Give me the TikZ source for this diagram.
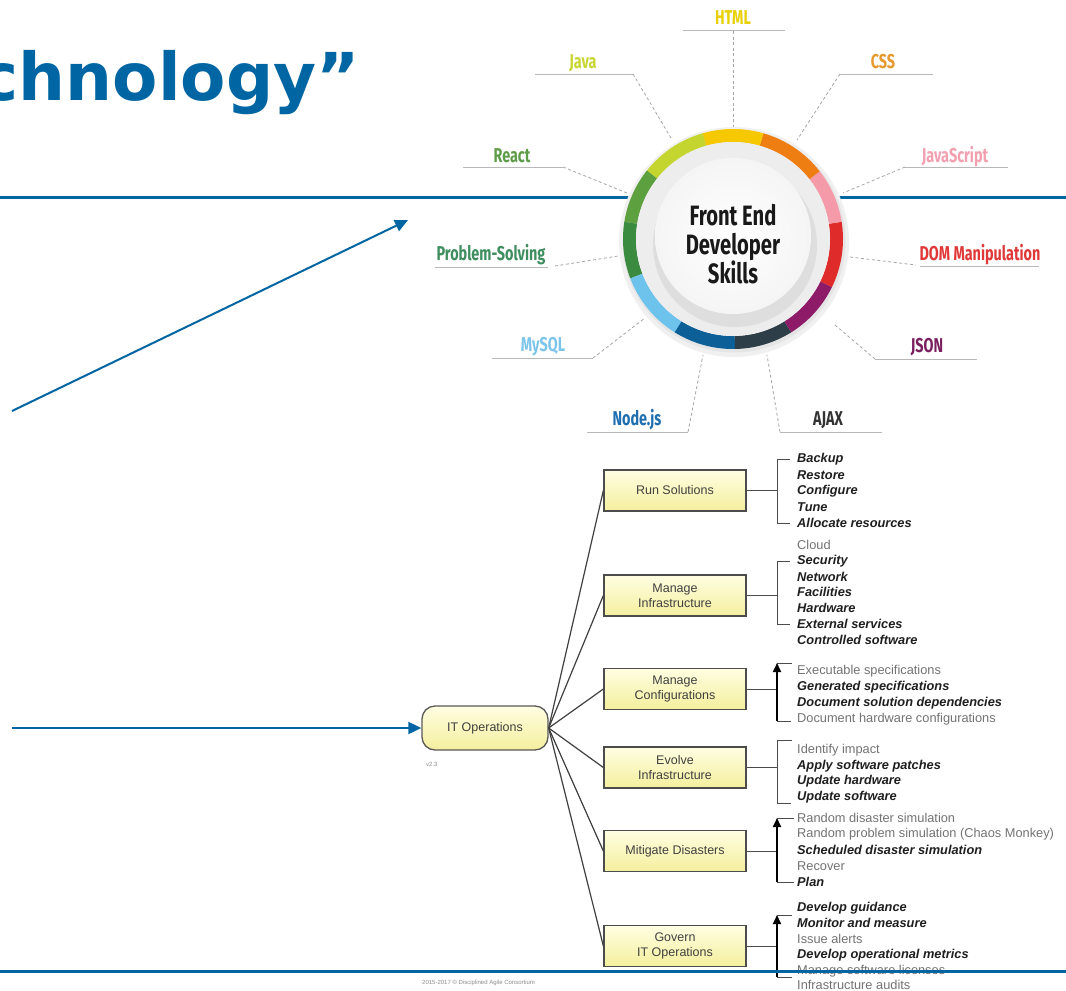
\documentclass[tikz,border=0pt]{standalone}
\usepackage{fontspec}
\setmainfont{Liberation Sans}
\newfontfamily\titlefont{DejaVu Sans}
\newfontfamily\condf{Fira Sans}[FakeStretch=0.72]
\usetikzlibrary{arrows.meta}
\definecolor{ruleblue}{HTML}{0066A3}
\definecolor{boxtop}{HTML}{FFFEE2}
\definecolor{boxbot}{HTML}{F4EF9E}
\definecolor{cHTML}{HTML}{E9D000}
\definecolor{cJava}{HTML}{C9D531}
\definecolor{cCSS}{HTML}{E8992E}
\definecolor{cReact}{HTML}{5E9C48}
\definecolor{cJS}{HTML}{F29FB0}
\definecolor{cPS}{HTML}{3F8E5F}
\definecolor{cDOM}{HTML}{E03838}
\definecolor{cSQL}{HTML}{7CC5EA}
\definecolor{cJSON}{HTML}{7A2060}
\definecolor{cNode}{HTML}{1E6EB0}
\definecolor{cAJAX}{HTML}{333333}
\definecolor{sRed}{HTML}{E02B2B}
\definecolor{sPink}{HTML}{F49AA8}
\definecolor{sOrange}{HTML}{EE7E12}
\definecolor{sYellow}{HTML}{F5C800}
\definecolor{sYG}{HTML}{C5D530}
\definecolor{sGreen}{HTML}{5DA040}
\definecolor{sDGreen}{HTML}{3A8A3F}
\definecolor{sLBlue}{HTML}{6EC3EC}
\definecolor{sDBlue}{HTML}{0D5F98}
\definecolor{sGray}{HTML}{2E3E48}
\definecolor{sPurple}{HTML}{8E1B68}
\newcommand\ringseg[3]{\fill[#3] (#1:110) arc[start angle=#1, end angle=#2, radius=110] -- (#2:97) arc[start angle=#2, end angle=#1, radius=97] -- cycle;}
\begin{document}
\begin{tikzpicture}[x=1pt,y=-1pt,
  lbl/.style={font=\condf\bfseries\fontsize{20}{20}\selectfont, inner sep=0},
  uline/.style={draw=black!28, line width=1pt},
  leader/.style={draw=black!35, line width=0.8pt, dash pattern=on 3pt off 2.5pt},
  procbox/.style={draw=black!70, line width=1.3pt, top color=boxtop, bottom color=boxbot, minimum width=142pt, minimum height=41pt, align=center, font=\fontsize{12.5}{15}\selectfont, text=black!75, inner sep=0},
  item/.style={anchor=west, inner sep=0},
  bi/.style={item, font=\fontsize{12.8}{14}\selectfont\bfseries\itshape, text=black!88},
  rg/.style={item, font=\fontsize{12.8}{14}\selectfont, text=black!55},
  brk/.style={draw=black!70, line width=1pt},
  brkarrow/.style={draw=black, line width=2pt, -{Triangle[length=9pt,width=8pt]}},
  fan/.style={draw=black!75, line width=1.2pt},
  bluearrow/.style={draw=ruleblue, line width=2pt, -{Triangle[length=13pt,width=12pt]}}
]
\useasboundingbox (0,0) rectangle (1066,991);
\fill[white] (0,0) rectangle (1066,991);

% title
\node[anchor=base east, inner sep=0, font=\titlefont\bfseries\fontsize{66}{66}\selectfont, text=ruleblue] (title) at (360,100) {chnology”};

% top rule
\coordinate (rtA) at (0,197);
\coordinate (rtB) at (1066,197);
\draw[ruleblue, line width=3pt] (rtA) -- (rtB);

% ring
\coordinate (C) at (733,239);
\begin{scope}[shift={(C)}, x=1pt, y=1pt]
  \fill[black!6] (1,-3) circle (115);
  \fill[black!10] (1,-2) circle (111.5);
  \ringseg{-26}{9}{sRed}
  \ringseg{9}{38}{sPink}
  \ringseg{38}{74}{sOrange}
  \ringseg{74}{106}{sYellow}
  \ringseg{106}{141.5}{sYG}
  \ringseg{141.5}{171}{sGreen}
  \ringseg{171}{201}{sDGreen}
  \ringseg{201}{238}{sLBlue}
  \ringseg{238}{271}{sDBlue}
  \ringseg{271}{302}{sGray}
  \ringseg{302}{334}{sPurple}
  \fill[black!7] circle (97);
  \fill[black!13] (2,-6) circle (82);
  \shade[inner color=white, outer color=black!4] (0,3) circle (78);
\end{scope}
\node[align=center, font=\condf\bfseries\fontsize{28}{29}\selectfont, text=black!90, inner sep=0] (center) at (733,244) {Front End\\Developer\\Skills};

% labels
\node[lbl, text=cHTML] (lHTML) at (733,18) {HTML};
\coordinate (uHTMLa) at (683,30); \coordinate (uHTMLb) at (785,30);
\coordinate (sHTML) at (733,31); \coordinate (eHTML) at (733,127);
\draw[uline] (uHTMLa) -- (uHTMLb); \draw[leader] (sHTML) -- (eHTML);

\node[lbl, text=cJava] (lJava) at (583,63) {Java};
\coordinate (uJavaa) at (535,74); \coordinate (uJavab) at (633,74);
\coordinate (eJava) at (671,138);
\draw[uline] (uJavaa) -- (uJavab); \draw[leader] (uJavab) -- (eJava);

\node[lbl, text=cCSS] (lCSS) at (883,62) {CSS};
\coordinate (uCSSa) at (840,74); \coordinate (uCSSb) at (933,74);
\coordinate (eCSS) at (797,140);
\draw[uline] (uCSSa) -- (uCSSb); \draw[leader] (uCSSa) -- (eCSS);

\node[lbl, text=cReact] (lReact) at (512,156) {React};
\coordinate (uReacta) at (463,167); \coordinate (uReactb) at (563,167);
\coordinate (eReact) at (627,193);
\draw[uline] (uReacta) -- (uReactb); \draw[leader] (uReactb) -- (eReact);

\node[lbl, text=cJS] (lJS) at (955,157) {JavaScript};
\coordinate (uJSa) at (905,167); \coordinate (uJSb) at (1008,167);
\coordinate (eJS) at (843,193);
\draw[uline] (uJSa) -- (uJSb); \draw[leader] (uJSa) -- (eJS);

\node[lbl, text=cPS] (lPS) at (491,255) {Problem-Solving};
\coordinate (uPSa) at (435,267); \coordinate (uPSb) at (548,267);
\coordinate (sPS) at (555,266); \coordinate (ePS) at (618,256);
\draw[uline] (uPSa) -- (uPSb); \draw[leader] (sPS) -- (ePS);

\node[lbl, text=cDOM] (lDOM) at (980,255) {DOM Manipulation};
\coordinate (uDOMa) at (920,266); \coordinate (uDOMb) at (1039,266);
\coordinate (sDOM) at (850,257); \coordinate (eDOM) at (916,265);
\draw[uline] (uDOMa) -- (uDOMb); \draw[leader] (sDOM) -- (eDOM);

\node[lbl, text=cSQL] (lSQL) at (543,347) {MySQL};
\coordinate (uSQLa) at (492,358); \coordinate (uSQLb) at (593,358);
\coordinate (eSQL) at (645,318);
\draw[uline] (uSQLa) -- (uSQLb); \draw[leader] (uSQLb) -- (eSQL);

\node[lbl, text=cJSON] (lJSON) at (927,347) {JSON};
\coordinate (uJSONa) at (875,359); \coordinate (uJSONb) at (977,359);
\coordinate (eJSON) at (835,325);
\draw[uline] (uJSONa) -- (uJSONb); \draw[leader] (uJSONa) -- (eJSON);

\node[lbl, text=cNode] (lNode) at (637,420) {Node.js};
\coordinate (uNodea) at (587,432); \coordinate (uNodeb) at (688,432);
\coordinate (eNode) at (703,355);
\draw[uline] (uNodea) -- (uNodeb); \draw[leader] (uNodeb) -- (eNode);

\node[lbl, text=cAJAX] (lAJAX) at (828,420) {AJAX};
\coordinate (uAJAXa) at (780,432); \coordinate (uAJAXb) at (882,432);
\coordinate (eAJAX) at (767,355);
\draw[uline] (uAJAXa) -- (uAJAXb); \draw[leader] (uAJAXa) -- (eAJAX);

% lower diagram
\node[draw=black!65, line width=1.3pt, rounded corners=13pt, top color=boxtop, bottom color=boxbot, minimum width=126pt, minimum height=44pt, inner sep=0, font=\fontsize{12.5}{15}\selectfont, text=black!75] (ito) at (485,728) {IT Operations};
\node[anchor=west, inner sep=0, font=\fontsize{6}{7}\selectfont, text=black!45] (ver) at (426,764) {v2.3};

\node[procbox] (rs) at (675,490.5) {Run Solutions};
\node[procbox] (mi) at (675,595.5) {Manage\\Infrastructure};
\node[procbox] (mc) at (675,689) {Manage\\Configurations};
\node[procbox] (ei) at (675,767.5) {Evolve\\Infrastructure};
\node[procbox] (md) at (675,851) {Mitigate Disasters};
\node[procbox] (gv) at (675,946) {Govern\\IT Operations};

\foreach \b in {rs,mi,mc,ei,md,gv} \draw[fan] (ito.east) -- (\b.west);

% Run Solutions
\coordinate (rsK) at (777,490.5);
\draw[brk] (rs.east) -- (rsK);
\draw[brk] (790,459) -- (777,459) -- (777,523) -- (790,523);
\node[bi] (rs1) at (797,459) {Backup};
\node[bi] (rs2) at (797,475) {Restore};
\node[bi] (rs3) at (797,491) {Configure};
\node[bi] (rs4) at (797,507) {Tune};
\node[bi] (rs5) at (797,523) {Allocate resources};

% Manage Infrastructure
\coordinate (miK) at (777,595.5);
\draw[brk] (mi.east) -- (miK);
\draw[brk] (790,561) -- (777,561) -- (777,624) -- (790,624);
\node[rg] (mi0) at (797,545) {Cloud};
\node[bi] (mi1) at (797,561) {Security};
\node[bi] (mi2) at (797,577) {Network};
\node[bi] (mi3) at (797,592) {Facilities};
\node[bi] (mi4) at (797,608) {Hardware};
\node[bi] (mi5) at (797,624) {External services};
\node[bi] (mi6) at (797,640) {Controlled software};

% Manage Configurations
\coordinate (mcK) at (777,689);
\draw[brk] (mc.east) -- (mcK);
\draw[brk] (792,663) -- (777,663);
\draw[brk] (777,721) -- (791,721);
\draw[brkarrow] (777,721) -- (777,663);
\node[rg] (mc1) at (797,671) {Executable specifications};
\node[bi] (mc2) at (797,687) {Generated specifications};
\node[bi] (mc3) at (797,703) {Document solution dependencies};
\node[rg] (mc4) at (797,719) {Document hardware configurations};

% Evolve Infrastructure
\coordinate (eiK) at (777,767.5);
\draw[brk] (ei.east) -- (eiK);
\draw[brk] (792,740) -- (777,740) -- (777,803) -- (791,803);
\node[rg] (ei1) at (797,750) {Identify impact};
\node[bi] (ei2) at (797,766) {Apply software patches};
\node[bi] (ei3) at (797,781) {Update hardware};
\node[bi] (ei4) at (797,797) {Update software};

% Mitigate Disasters
\coordinate (mdK) at (777,851);
\draw[brk] (md.east) -- (mdK);
\draw[brk] (794,818) -- (777,818);
\draw[brk] (777,882) -- (794,882);
\draw[brkarrow] (777,882) -- (777,818);
\node[rg] (md1) at (797,818) {Random disaster simulation};
\node[rg] (md2) at (797,834) {Random problem simulation (Chaos Monkey)};
\node[bi] (md3) at (797,850) {Scheduled disaster simulation};
\node[rg] (md4) at (797,866) {Recover};
\node[bi] (md5) at (797,882) {Plan};

% Govern IT Operations
\coordinate (gvK) at (777,946);
\draw[brk] (gv.east) -- (gvK);
\draw[brk] (792,915) -- (777,915);
\draw[brk] (777,977) -- (792,977);
\draw[brkarrow] (777,977) -- (777,915);
\node[bi] (gv1) at (797,908) {Develop guidance};
\node[bi] (gv2) at (797,923) {Monitor and measure};
\node[rg] (gv3) at (797,939) {Issue alerts};
\node[bi] (gv4) at (797,955) {Develop operational metrics};
\node[rg] (gv5) at (797,971) {Manage software licenses};
\node[rg] (gv6) at (797,984.5) {Infrastructure audits};

\node[anchor=west, inner sep=0, font=\fontsize{6}{7}\selectfont, text=black!45] (foot) at (422,983) {2015-2017 © Disciplined Agile Consortium};

% blue arrows
\coordinate (a1s) at (12,411);
\coordinate (a1e) at (408,220);
\draw[bluearrow] (a1s) -- (a1e);
\coordinate (a2s) at (12,728);
\draw[bluearrow] (a2s) -- (ito.west);

% bottom rule
\coordinate (rbA) at (0,971);
\coordinate (rbB) at (1066,971);
\draw[ruleblue, line width=3pt] (rbA) -- (rbB);
\end{tikzpicture}
\end{document}
